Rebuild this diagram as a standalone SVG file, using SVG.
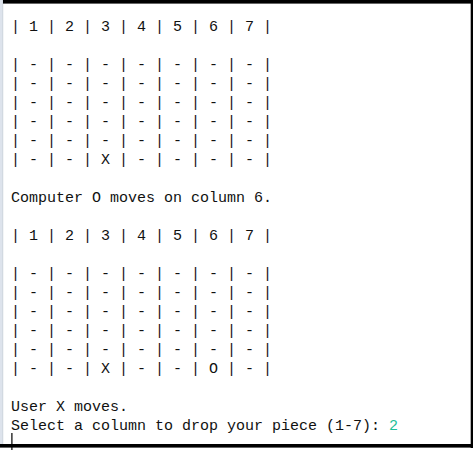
<svg xmlns="http://www.w3.org/2000/svg" width="473" height="450" viewBox="0 0 473 450">
<style>
text{font-family:"Liberation Mono","DejaVu Sans Mono",monospace;font-size:15px;fill:#111;white-space:pre}
.inp{fill:#1fbf9a}
</style>
<rect x="0" y="0" width="473" height="450" fill="#ffffff"/>
<rect x="0" y="0" width="2.3" height="444" fill="#dde3ec"/>
<rect x="2.3" y="0" width="0.9" height="444" fill="#c3ccd8"/>
<rect x="3" y="0" width="470" height="3.6" fill="#000"/>
<rect x="470.7" y="0" width="2.3" height="448" fill="#000"/>
<rect x="0" y="444" width="473" height="3.6" fill="#000"/>
<rect x="11.3" y="433" width="1.2" height="17" fill="#000"/>
<g id="board1" xml:space="preserve">
<text x="11" y="31">| 1 | 2 | 3 | 4 | 5 | 6 | 7 |</text>
<text x="11" y="69">| - | - | - | - | - | - | - |</text>
<text x="11" y="88">| - | - | - | - | - | - | - |</text>
<text x="11" y="107">| - | - | - | - | - | - | - |</text>
<text x="11" y="126">| - | - | - | - | - | - | - |</text>
<text x="11" y="145">| - | - | - | - | - | - | - |</text>
<text x="11" y="164">| - | - | X | - | - | - | - |</text>
</g>
<g id="msg1" xml:space="preserve">
<text x="11" y="202">Computer O moves on column 6.</text>
</g>
<g id="board2" xml:space="preserve">
<text x="11" y="240">| 1 | 2 | 3 | 4 | 5 | 6 | 7 |</text>
<text x="11" y="278">| - | - | - | - | - | - | - |</text>
<text x="11" y="297">| - | - | - | - | - | - | - |</text>
<text x="11" y="316">| - | - | - | - | - | - | - |</text>
<text x="11" y="335">| - | - | - | - | - | - | - |</text>
<text x="11" y="354">| - | - | - | - | - | - | - |</text>
<text x="11" y="373">| - | - | X | - | - | O | - |</text>
</g>
<g id="msg2" xml:space="preserve">
<text x="11" y="411">User X moves.</text>
<text x="11" y="430">Select a column to drop your piece (1-7): <tspan class="inp">2</tspan></text>
</g>
</svg>
